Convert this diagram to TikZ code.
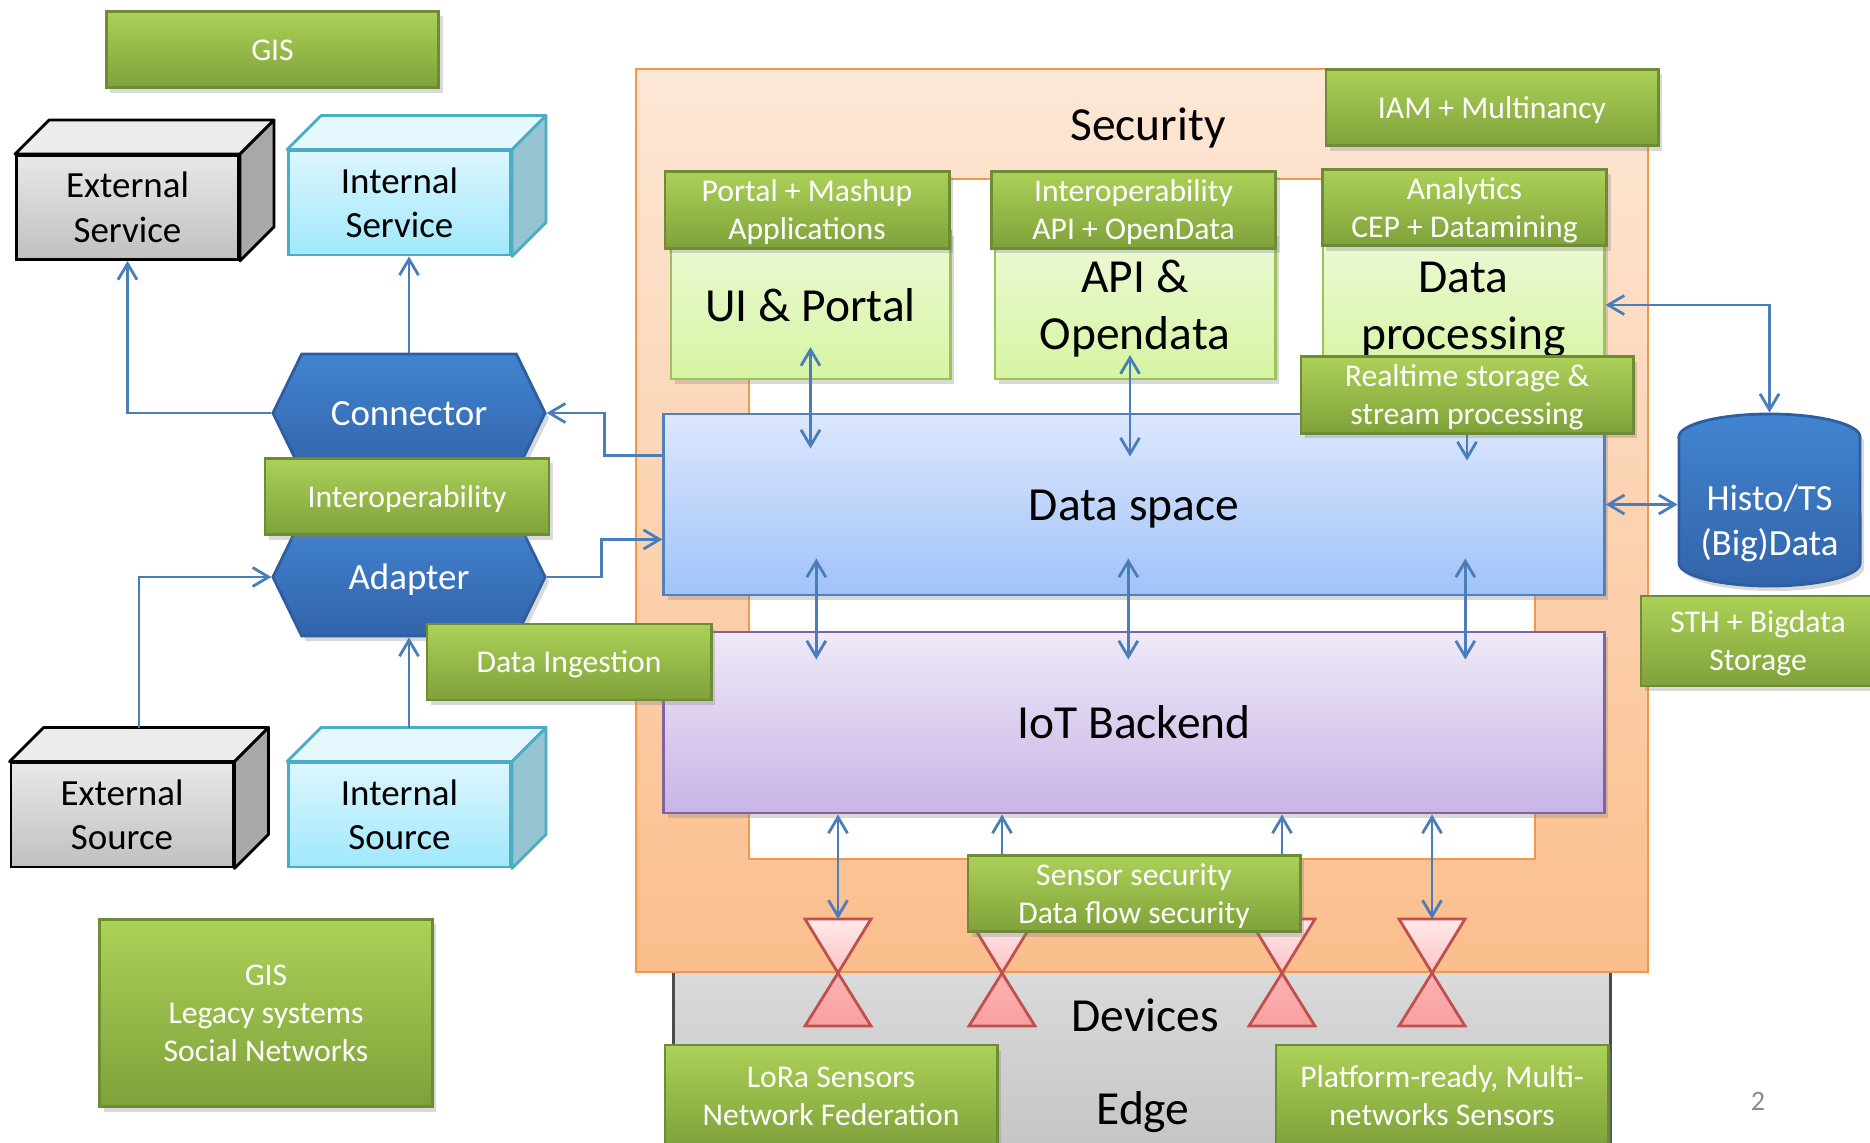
\documentclass[tikz,border=0pt]{standalone}
\usepackage{fontspec}
\setmainfont{Carlito}
\usepackage{tikz}
\usetikzlibrary{calc}
\usetikzlibrary{arrows.meta}
\usetikzlibrary{shapes.symbols}
\usetikzlibrary{shadows}
\definecolor{greentop}{RGB}{172,209,88}
\definecolor{greenbot}{RGB}{127,161,58}
\definecolor{greenline}{RGB}{110,140,52}
\definecolor{lighttop}{RGB}{237,249,215}
\definecolor{lightbot}{RGB}{214,245,162}
\definecolor{lightline}{RGB}{155,195,90}
\definecolor{dstop}{RGB}{221,231,252}
\definecolor{dsbot}{RGB}{160,195,250}
\definecolor{dsline}{RGB}{79,129,189}
\definecolor{iottop}{RGB}{239,233,248}
\definecolor{iotbot}{RGB}{200,180,230}
\definecolor{iotline}{RGB}{128,100,162}
\definecolor{sectop}{RGB}{253,231,214}
\definecolor{secbot}{RGB}{251,190,140}
\definecolor{secline}{RGB}{247,150,70}
\definecolor{hextop}{RGB}{66,132,208}
\definecolor{hexbot}{RGB}{50,100,170}
\definecolor{hexline}{RGB}{45,95,160}
\definecolor{exttop}{RGB}{232,232,232}
\definecolor{extbot}{RGB}{192,192,192}
\definecolor{extface}{RGB}{236,236,236}
\definecolor{extside}{RGB}{168,168,168}
\definecolor{cubeline}{RGB}{75,172,198}
\definecolor{inttop}{RGB}{220,246,253}
\definecolor{intbot}{RGB}{160,232,252}
\definecolor{intface}{RGB}{228,248,253}
\definecolor{intside}{RGB}{150,196,210}
\definecolor{arrowblue}{RGB}{74,126,187}
\definecolor{hgline}{RGB}{192,80,77}
\definecolor{hglight}{RGB}{255,232,234}
\definecolor{hgmid}{RGB}{252,196,198}
\definecolor{hgdark}{RGB}{250,160,160}
\definecolor{devtop}{RGB}{222,222,222}
\definecolor{devbot}{RGB}{196,196,196}
\newcommand{\widthgreen}{3.32cm}
\newcommand{\widthhead}{2.84cm}
\newcommand{\heightgreen}{0.76cm}
\newcommand{\cubedepth}{0.34cm}
\newcommand{\bigtxt}{\fontsize{13.5}{16.2}\selectfont}
\newcommand{\midtxt}{\fontsize{10.5}{12.6}\selectfont}
\newcommand{\smalltxt}{\fontsize{9}{10.8}\selectfont}
\newcommand{\topstrut}{\baselineskip=1.2em\vrule width 0pt height 0.95em depth 0pt}
\newcommand{\botstrut}{\vrule width 0pt height 0pt depth 0.27em}
\newcommand{\cubefaces}[4]{
    \path[fill=#2, draw=#4, line width=0.8pt, line join=round]
        (#1.north west) -- ++(\cubedepth,\cubedepth)
        -- ([shift={(\cubedepth,\cubedepth)}]#1.north east) -- (#1.north east) -- cycle;
    \path[fill=#3, draw=#4, line width=0.8pt, line join=round]
        (#1.north east) -- ([shift={(\cubedepth,\cubedepth)}]#1.north east)
        -- ([shift={(\cubedepth,\cubedepth)}]#1.south east) -- (#1.south east) -- cycle;
    \coordinate (#1-top) at ([shift={(\cubedepth/2,\cubedepth)}]#1.north);
}
\tikzset{
    >={Straight Barb[length=1.6mm, width=1.9mm]},
    shadowed/.style={drop shadow={shadow xshift=0.04cm, shadow yshift=-0.05cm, opacity=0.3}},
    common/.style={inner sep=0pt, align=flush center, line width=0.8pt,
        execute at begin node=\topstrut, execute at end node=\botstrut},
    greenbox/.style={common, shadowed, draw=greenline, top color=greentop, bottom color=greenbot, text=white, font=\smalltxt,
        minimum width=\widthgreen, text width=\widthgreen-0.12cm, minimum height=\heightgreen},
    headbox/.style={greenbox, minimum width=\widthhead, text width=\widthhead-0.12cm},
    lightbox/.style={common, shadowed, draw=lightline, top color=lighttop, bottom color=lightbot, font=\bigtxt, text width=2.6cm, minimum height=1.48cm},
    layerbox/.style={common, shadowed, font=\bigtxt, minimum width=9.40cm, text width=9.2cm, minimum height=1.81cm},
    cube/.style={common, font=\midtxt, minimum width=2.22cm, text width=2.1cm, minimum height=1.04cm},
    extcube/.style={cube, draw=black, top color=exttop, bottom color=extbot},
    intcube/.style={cube, draw=cubeline, top color=inttop, bottom color=intbot},
    hexbox/.style={common, shadowed, signal, signal to=west and east, signal pointer angle=128, draw=hexline, top color=hextop, bottom color=hexbot, text=white, font=\midtxt, minimum width=2.72cm, minimum height=1.18cm},
    devbox/.style={common, draw=black!70, top color=devtop, bottom color=devbot, minimum width=9.36cm, minimum height=2.2cm},
    arr/.style={->, draw=arrowblue, line width=0.8pt},
    arr2/.style={<->, draw=arrowblue, line width=0.8pt}
}
\begin{document}
\begin{tikzpicture}[x=0.01cm, y=-0.01cm]
    \useasboundingbox (0,0) rectangle (1870,1142);

    \node[devbox] (devbox) at (1142,1050) {};
    \path[top color=sectop, bottom color=secbot, draw=secline, line width=0.8pt] (636,69) rectangle (1648,972);
    \path[fill=white, draw=secline, line width=0.8pt] (749,179) rectangle (1535,859);
    \node[font=\bigtxt] (sec) at (1148,128) {Security};

    \coordinate (hg1) at (838,919);
    \coordinate (hg2) at (1002,919);
    \coordinate (hg3) at (1282,919);
    \coordinate (hg4) at (1432,919);
    \foreach \h in {hg1,hg2,hg3,hg4}{
        \path[draw=hgline, line width=0.8pt, top color=hglight, bottom color=hgmid] (\h) ++(-33,0) -- ++(66,0) -- ++(-33,54) -- cycle;
        \path[draw=hgline, line width=0.8pt, top color=hgmid, bottom color=hgdark] (\h) ++(0,54) -- ++(33,53) -- ++(-66,0) -- cycle;
    }

    \path
        node[lightbox, minimum width=2.79cm] (uibox) at (810.5,305) {UI \& Portal}
        node[lightbox, minimum width=2.80cm] (apibox) at (1135,305) {API \&\\Opendata}
        node[lightbox, minimum width=2.81cm] (procbox) at (1463.5,305) {Data\\processing};
    \path
        node[headbox] (portalhead) at (807,210) {Portal + Mashup\\Applications}
        node[headbox] (interophead) at (1133.5,210) {Interoperability\\API + OpenData}
        node[headbox] (analyticshead) at (1464.5,207.5) {Analytics\\CEP + Datamining}
        node[greenbox] (iam) at (1492,107.5) {IAM + Multinancy};

    \node[layerbox, draw=dsline, top color=dstop, bottom color=dsbot] (ds) at (1134,504.5) {Data space};
    \node[layerbox, draw=iotline, top color=iottop, bottom color=iotbot] (iot) at (1134,722.5) {IoT Backend};
    \node[greenbox] (realtime) at (1467,395) {Realtime storage \&\\stream processing};

    \path[shadowed, draw=hexline, line width=0.8pt, top color=hextop, bottom color=hexbot]
        (1679,437) -- (1679,563) arc[start angle=180, end angle=360, x radius=0.905cm, y radius=0.23cm]
        -- (1860,437) arc[start angle=0, end angle=180, x radius=0.905cm, y radius=0.23cm] -- cycle;
    \node[common, text=white, font=\midtxt, text width=1.6cm, minimum width=1.81cm, minimum height=1.72cm,
        execute at begin node={\topstrut\vrule width 0pt height 2.05em}] (histo) at (1769.5,500) {Histo/TS\\(Big)Data};
    \node[greenbox, minimum width=2.34cm, text width=2.22cm, minimum height=0.9cm] (sth) at (1758,641) {STH + Bigdata\\Storage};

    \node[greenbox] (sensorsec) at (1134,893.5) {Sensor security\\Data flow security};
    \node[greenbox, minimum height=1.02cm] (lora) at (831,1096) {LoRa Sensors\\Network Federation};
    \node[greenbox, minimum height=1.02cm] (platform) at (1442,1096) {Platform-ready, Multi-\\networks Sensors};
    \path
        node[font=\bigtxt] (devtxt) at (1145,1015) {Devices}
        node[font=\bigtxt] (edgetxt) at (1143,1112) {Edge};

    \node[greenbox] (gis) at (272.5,49.5) {GIS};
    \node[greenbox, minimum height=1.87cm] (legacy) at (266,1013) {GIS\\Legacy systems\\Social Networks};

    \node[extcube] (extsvc) at (127.5,207.5) {External\\Service};
    \cubefaces{extsvc}{extface}{extside}{black}
    \node[intcube] (intsvc) at (399.5,203) {Internal\\Service};
    \cubefaces{intsvc}{intface}{intside}{cubeline}
    \node[extcube] (extsrc) at (122,815) {External\\Source};
    \cubefaces{extsrc}{extface}{extside}{black}
    \node[intcube] (intsrc) at (399.5,815) {Internal\\Source};
    \cubefaces{intsrc}{intface}{intside}{cubeline}

    \node[hexbox] (conn) at (409,413) {Connector};
    \node[hexbox] (adpt) at (409,577) {Adapter};
    \node[headbox] (interop) at (407,496.5) {Interoperability};
    \node[headbox] (ingest) at (569,662) {Data Ingestion};

    \draw[arr] (conn.west) -| (extsvc.south);
    \draw[arr] (conn.north) -- (conn.north |- intsvc.south);
    \draw[arr] ($(ds.north west)+(0,43)$) -- ++(-58,0) |- (conn.east);
    \draw[arr] (adpt.east) -- ++(55,0) |- ($(ds.south west)+(0,-57)$);
    \draw[arr] (extsrc-top) |- (adpt.west);
    \draw[arr] (intsrc-top -| adpt.south) -- (adpt.south);

    \draw[arr2] ($(uibox.center)+(0,42)$) -- ($(uibox.center |- ds.north)+(0,36)$);
    \draw[arr2] ($(apibox.center)+(-5,50)$) -- ($(apibox.center |- ds.north)+(-5,44)$);
    \draw[arr] (realtime.south) -- ($(realtime.south |- ds.north)+(0,48)$);
    \foreach \dx in {154,466,803}
        \draw[arr2] ($(ds.south west)+(\dx,-38)$) -- ($(iot.north west)+(\dx,29)$);
    \foreach \h in {hg1,hg4}
        \draw[arr2] (iot.south -| \h) -- (\h);
    \foreach \h in {hg2,hg3}
        \draw[arr] (sensorsec.north -| \h) -- (iot.south -| \h);
    \draw[arr2] (procbox.east) -| (histo.north);
    \draw[arr2] (ds.east) -- (ds.east -| histo.west);

    \node[text=black!45, font=\fontsize{8}{9.6}\selectfont] (pagenum) at (1758,1101) {2};
\end{tikzpicture}
\end{document}
